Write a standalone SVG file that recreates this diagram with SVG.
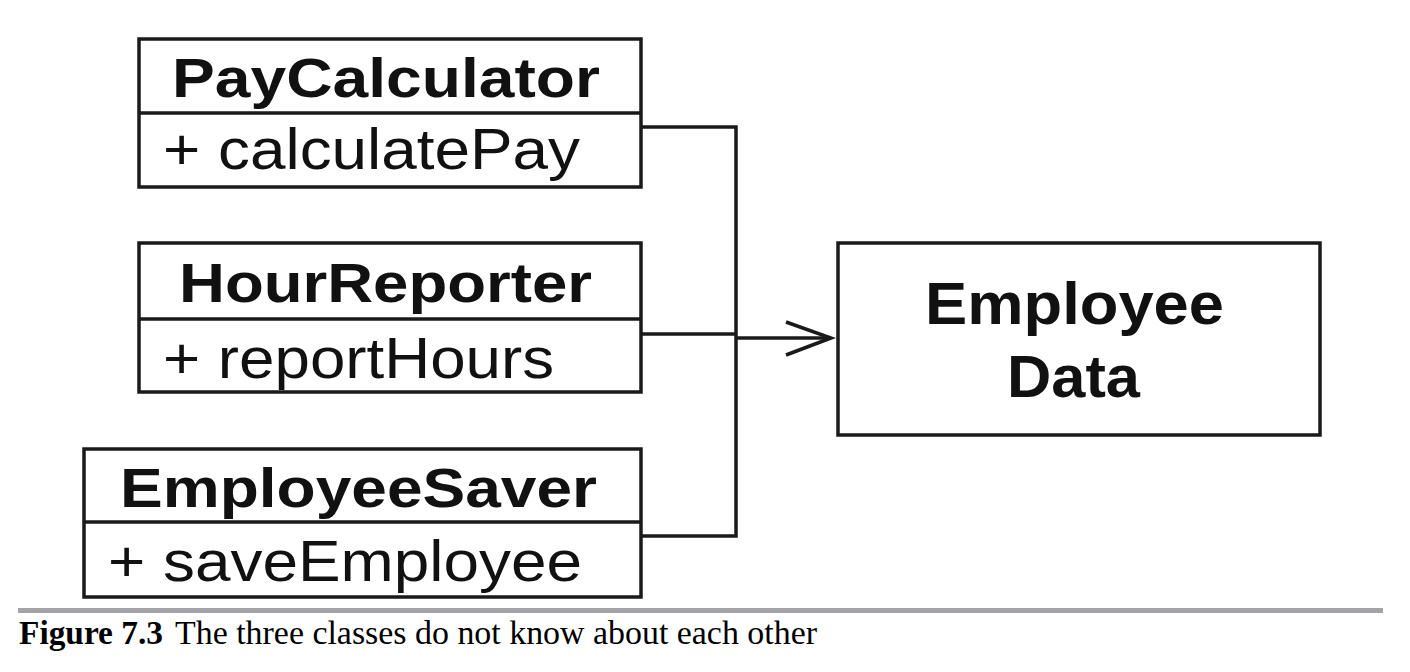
<svg xmlns="http://www.w3.org/2000/svg" width="1410" height="672" viewBox="0 0 1410 672">
<style>
.box{fill:#fff;stroke:#1a1a1a;stroke-width:3.5}
.div{stroke:#1a1a1a;stroke-width:3.5}
.title{font-family:"Liberation Sans",Arial,sans-serif;font-weight:bold;font-size:56px;fill:#111}
.op{font-family:"Liberation Sans",Arial,sans-serif;font-size:57px;fill:#111}
.big{font-family:"Liberation Sans",Arial,sans-serif;font-weight:bold;font-size:60px;fill:#111}
.conn{fill:none;stroke:#1a1a1a;stroke-width:3.5}
.cap{font-family:"Liberation Serif","Times New Roman",serif;font-size:33px;fill:#000}
</style>
<rect width="1410" height="672" fill="#fff"/>
<g id="PayCalculator">
<rect class="box" x="139" y="39" width="502" height="148"/>
<line class="div" x1="139" y1="113" x2="641" y2="113"/>
<text class="title" x="172" y="97" textLength="428" lengthAdjust="spacingAndGlyphs">PayCalculator</text>
<text class="op" x="163" y="169" textLength="417" lengthAdjust="spacingAndGlyphs">+ calculatePay</text>
</g>
<g id="HourReporter">
<rect class="box" x="139" y="243" width="502" height="149"/>
<line class="div" x1="139" y1="319" x2="641" y2="319"/>
<text class="title" x="179" y="302" textLength="413" lengthAdjust="spacingAndGlyphs">HourReporter</text>
<text class="op" x="163" y="378" textLength="391" lengthAdjust="spacingAndGlyphs">+ reportHours</text>
</g>
<g id="EmployeeSaver">
<rect class="box" x="84" y="449" width="557" height="148"/>
<line class="div" x1="84" y1="522" x2="641" y2="522"/>
<text class="title" x="120" y="507" textLength="477" lengthAdjust="spacingAndGlyphs">EmployeeSaver</text>
<text class="op" x="108" y="581" textLength="474" lengthAdjust="spacingAndGlyphs">+ saveEmployee</text>
</g>
<g id="EmployeeData">
<rect class="box" x="838" y="243" width="482" height="192"/>
<text class="big" x="925" y="324" textLength="299" lengthAdjust="spacingAndGlyphs">Employee</text>
<text class="big" x="1007" y="397" textLength="133" lengthAdjust="spacingAndGlyphs">Data</text>
</g>
<g id="connectors">
<polyline class="conn" points="641,127 736,127 736,536 641,536"/>
<line class="conn" x1="641" y1="334" x2="736" y2="334"/>
<line class="conn" x1="736" y1="338" x2="830" y2="338"/>
<polyline class="conn" points="786,322 831,338 786,355" stroke-width="4"/>
</g>
<g id="caption">
<rect x="18" y="608" width="1365" height="5" fill="#a3a3a8"/>
<text class="cap" x="19" y="644" font-weight="bold" textLength="144" lengthAdjust="spacingAndGlyphs">Figure 7.3</text>
<text class="cap" x="175" y="644" textLength="642" lengthAdjust="spacingAndGlyphs">The three classes do not know about each other</text>
</g>
</svg>
